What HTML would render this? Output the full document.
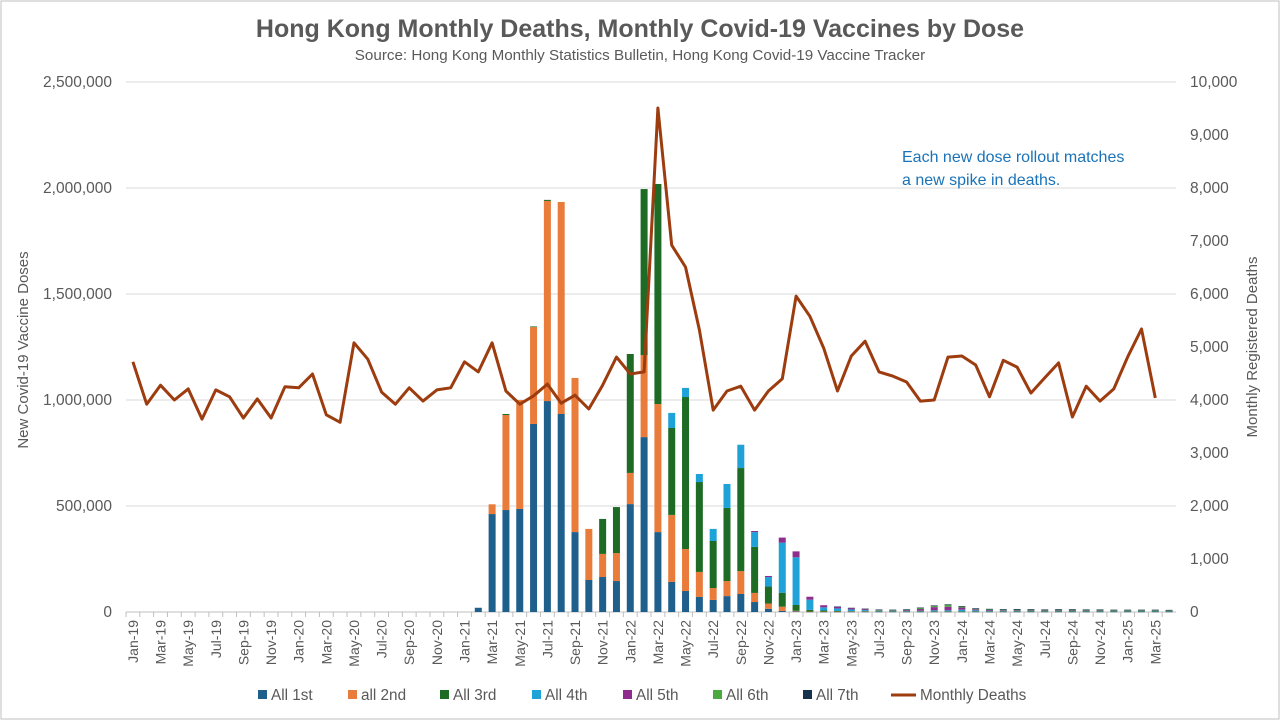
<!DOCTYPE html>
<html><head><meta charset="utf-8">
<style>
body{margin:0;background:#fff;}
svg{display:block;font-family:"Liberation Sans",sans-serif;}
</style></head>
<body>
<svg id="chart" width="1280" height="720"></svg>
<script>
const months=[];
const mn=["Jan","Feb","Mar","Apr","May","Jun","Jul","Aug","Sep","Oct","Nov","Dec"];
for(let y=19;y<=25;y++)for(let m=0;m<12;m++){if(y===25&&m>3)break;months.push(mn[m]+"-"+y);}
const Z25=[0,0,0,0,0,0,0,0,0,0,0,0,0,0,0,0,0,0,0,0,0,0,0,0,0];
const dose1=Z25.concat([20,462,481,486,887,995,934,377,151,165,146,509,825,377,142,99,71,57,75,85,47,15,5,3,1,1,1,1,1,1,1,1,1,1,1,1,1,1,1,1,1,1,1,1,1,1,1,1,1,1,1]);
const dose2=Z25.concat([0,46,448,514,457,944,1000,727,241,109,132,147,387,604,316,198,118,56,71,108,43,25,20,3,1,1,1,1,1,1,1,1,1,1,1,1,1,1,1,1,1,1,1,1,1,1,1,1,1,1,1]);
const dose3=Z25.concat([0,0,5,0,3,5,0,0,0,165,217,561,783,1038,410,717,424,222,345,486,217,80,66,27,8,5,3,2,2,1,1,1,1,1,1,1,1,1,1,1,1,1,1,1,1,1,1,1,1,1,1]);
const dose4=Z25.concat([0,0,0,0,0,0,0,0,0,0,0,0,0,0,71,43,38,57,113,110,70,45,236,225,48,15,12,8,5,3,3,3,3,5,5,8,5,3,3,2,2,2,2,2,2,2,2,2,2,2,2]);
const dose5=Z25.concat([0,0,0,0,0,0,0,0,0,0,0,0,0,0,0,0,0,0,0,0,5,5,24,28,14,10,8,6,4,3,3,4,8,15,17,10,5,4,3,3,2,2,2,2,2,2,2,2,2,2,2]);
const dose6=Z25.concat([0,0,0,0,0,0,0,0,0,0,0,0,0,0,0,0,0,0,0,0,0,0,0,0,0,0,0,0,0,1,1,2,5,5,8,5,2,2,2,2,2,2,2,2,2,2,1,1,1,1,1]);
const dose7=Z25.concat([0,0,0,0,0,0,0,0,0,0,0,0,0,0,0,0,0,0,0,0,0,0,0,0,0,0,1,2,3,2,1,1,2,3,3,2,3,3,3,4,4,3,4,4,3,3,3,3,3,3,2]);
const deaths=[4720,3920,4280,4000,4210,3640,4190,4060,3660,4020,3660,4250,4230,4490,3720,3580,5080,4770,4150,3920,4230,3980,4190,4230,4720,4530,5080,4170,3920,4080,4300,3940,4090,3830,4280,4810,4490,4530,9510,6920,6510,5320,3810,4170,4260,3810,4170,4400,5960,5580,4980,4170,4830,5110,4530,4450,4340,3980,4000,4810,4830,4660,4060,4750,4620,4130,4420,4700,3680,4260,3980,4210,4810,5340,4040];
const leftTicks=[0,500000,1000000,1500000,2000000,2500000];
const rightTicks=[0,1000,2000,3000,4000,5000,6000,7000,8000,9000,10000];
const seriesNames=["All 1st","all 2nd","All 3rd","All 4th","All 5th","All 6th","All 7th"];
const seriesColors=["#1f5f8b","#e97b3b","#1e6b25","#1ea2d8","#8e2d8e","#4aaa3f","#17324d"];
const series=[dose1,dose2,dose3,dose4,dose5,dose6,dose7];

const svg=document.getElementById('chart');
const NS="http://www.w3.org/2000/svg";
function el(t,a,p){const e=document.createElementNS(NS,t);for(const k in a)e.setAttribute(k,a[k]);(p||svg).appendChild(e);return e;}
const X0=126,X1=1176,Y0=612,Y1=82;
const bw=(X1-X0)/months.length;
const xc=i=>X0+bw*(i+0.5);
const yL=v=>Y0-(v/2500000)*(Y0-Y1);
const yR=v=>Y0-(v/10000)*(Y0-Y1);

let r=el('rect',{x:1,y:1,width:1278,height:718,fill:'#fff',stroke:'#bfbfbf','stroke-width':1});

let t=el('text',{x:640,y:37,'text-anchor':'middle','font-size':25,'font-weight':'bold',fill:'#595959'});t.textContent="Hong Kong Monthly Deaths, Monthly Covid-19 Vaccines by Dose";

t=el('text',{x:640,y:60,'text-anchor':'middle','font-size':15.2,fill:'#595959'});t.textContent="Source: Hong Kong Monthly Statistics Bulletin, Hong Kong Covid-19 Vaccine Tracker";


leftTicks.forEach((v,i)=>{
  const g=el('line',{x1:X0,x2:X1,y1:yL(v),y2:yL(v),stroke:i===0?'#bfbfbf':'#d9d9d9','stroke-width':1});
  
  const l=el('text',{x:112,y:yL(v)+5,'text-anchor':'end','font-size':15.5,fill:'#595959'});l.textContent=v.toLocaleString('en-US');
  
});
rightTicks.forEach(v=>{
  const l=el('text',{x:1190,y:yR(v)+5,'text-anchor':'start','font-size':15.5,fill:'#595959'});l.textContent=v.toLocaleString('en-US');
  
});
months.forEach((m,i)=>{
  const tk=el('line',{x1:X0+bw*i,x2:X0+bw*i,y1:Y0,y2:Y0+5,stroke:'#bfbfbf'});
  
  if(i%2===0){
    const l=el('text',{x:0,y:0,'text-anchor':'end','font-size':14,fill:'#595959',transform:`translate(${xc(i)+5},${620}) rotate(-90)`});l.textContent=m;
    
  }
});
t=el('text',{x:0,y:0,'text-anchor':'middle','font-size':15,fill:'#595959',transform:'translate(28,350) rotate(-90)'});t.textContent="New Covid-19 Vaccine Doses";

t=el('text',{x:0,y:0,'text-anchor':'middle','font-size':15,fill:'#595959',transform:'translate(1257,347) rotate(-90)'});t.textContent="Monthly Registered Deaths";


months.forEach((m,i)=>{
  let acc=0;
  series.forEach((s,k)=>{
    const v=s[i]*1000;if(!v)return;
    const yt=yL(acc+v),yb=yL(acc);acc+=v;
    const b=el('rect',{x:xc(i)-3.5,y:yt,width:7,height:Math.max(yb-yt,0.5),fill:seriesColors[k]});
    
    
  });
});
const pts=deaths.map((d,i)=>xc(i).toFixed(1)+','+yR(d).toFixed(1)).join(' ');
const pl=el('polyline',{points:pts,fill:'none',stroke:'#9c3c0f','stroke-width':3,'stroke-linejoin':'round'});


t=el('text',{x:902,y:162,'font-size':16,fill:'#1a73b8'});t.textContent="Each new dose rollout matches";

t=el('text',{x:902,y:185,'font-size':16,fill:'#1a73b8'});t.textContent="a new spike in deaths.";


const legX=[258,348,440,532,623,713,803];
seriesNames.forEach((n,k)=>{
  const g=el('g',{});
  
  
  el('rect',{x:legX[k],y:690,width:9,height:9,fill:seriesColors[k]},g);
  const l=el('text',{x:legX[k]+13,y:700,'font-size':15.3,fill:'#595959'},g);l.textContent=n;
});
const lg=el('g',{});


el('line',{x1:891,x2:916,y1:695,y2:695,stroke:'#9c3c0f','stroke-width':3},lg);
const ll=el('text',{x:920,y:700,'font-size':15.3,fill:'#595959'},lg);ll.textContent="Monthly Deaths";
</script>
</body></html>
